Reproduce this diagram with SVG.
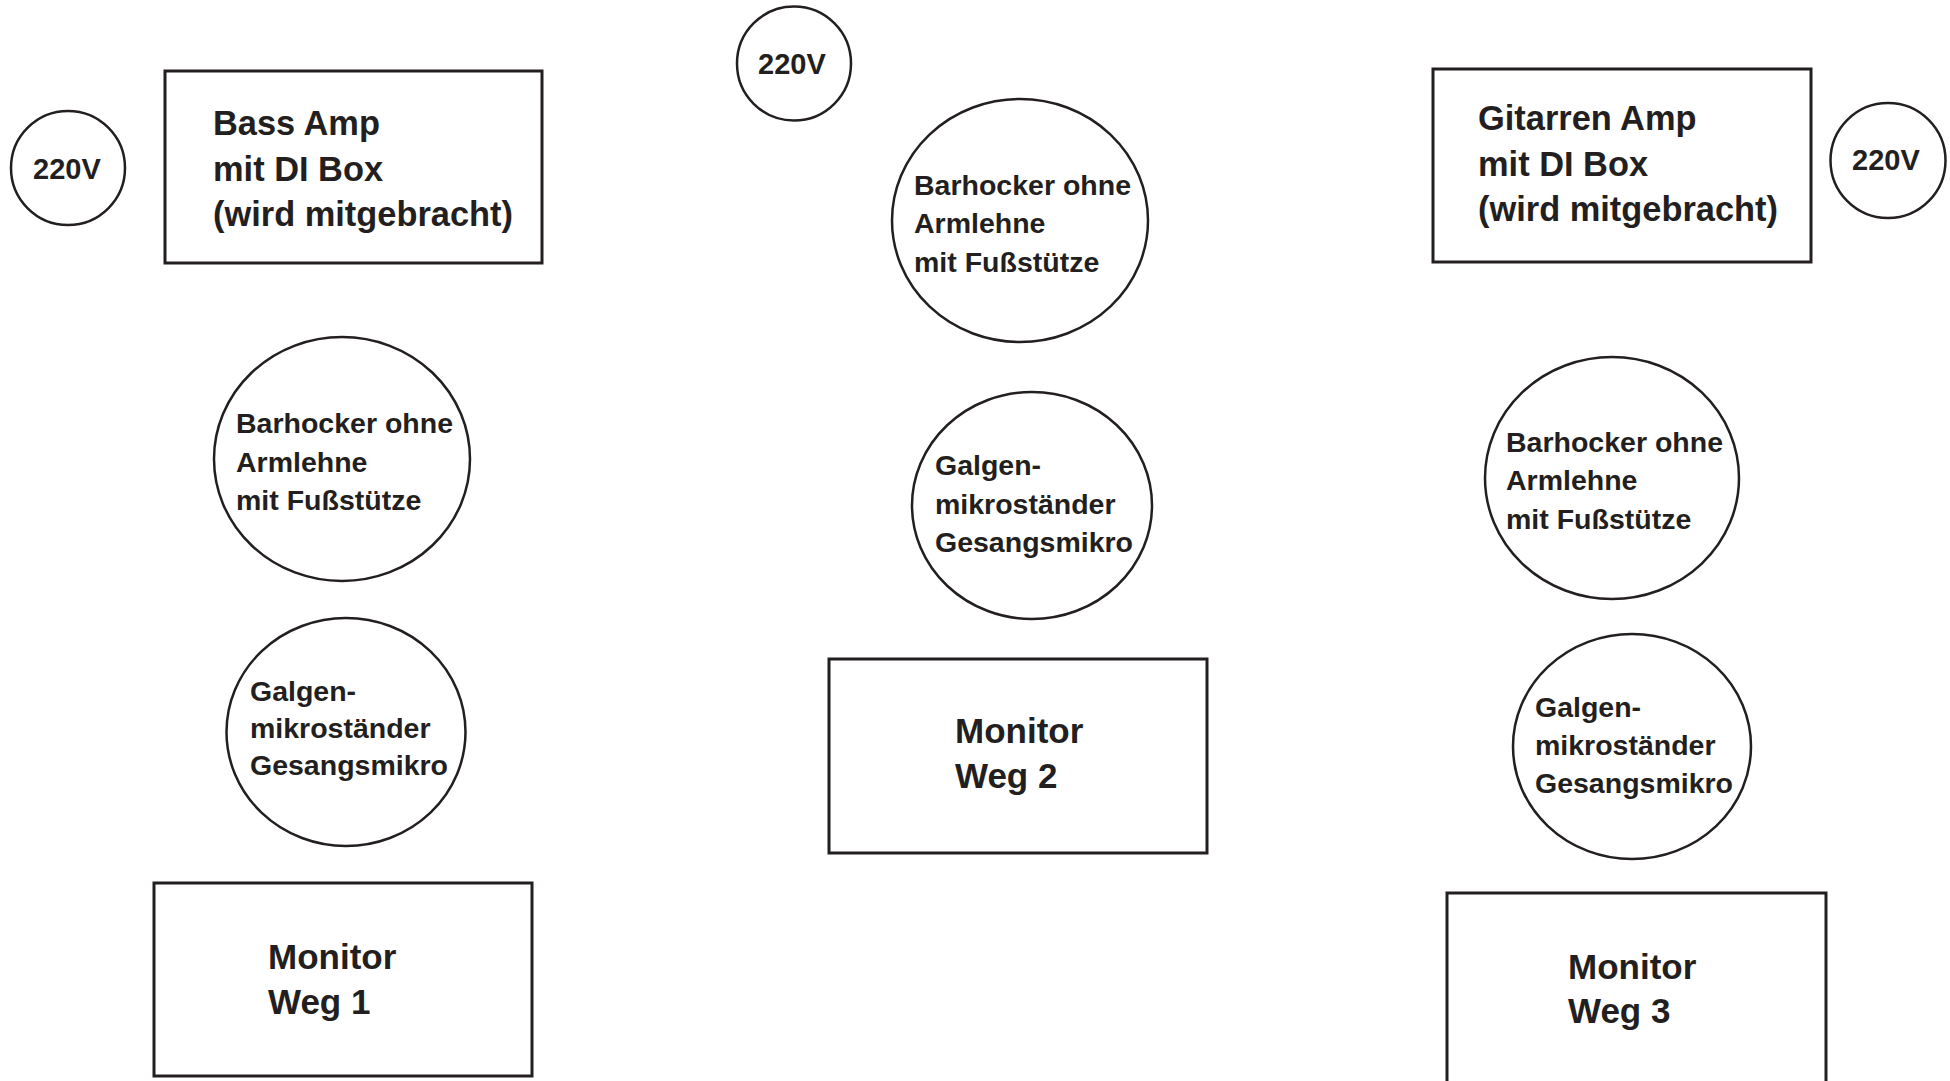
<svg xmlns="http://www.w3.org/2000/svg" width="1950" height="1081" viewBox="0 0 1950 1081">
<style>
.box{fill:#fff;stroke:#231f20;stroke-width:3}
.circ{fill:#fff;stroke:#231f20;stroke-width:2.5}
text{font-family:"Liberation Sans",Arial,sans-serif;font-weight:bold;fill:#231f20}
.amp{font-size:34.4px}
.mon{font-size:35px}
.small{font-size:28.5px}
.volt{font-size:29px}
</style>
<rect width="1950" height="1081" fill="#fff"/>
<g id="connectors"></g>

<g id="power-left">
<circle class="circ" cx="68" cy="168" r="57"/>
<text class="volt" x="33" y="179">220V</text>
</g>
<g id="bass-amp">
<rect class="box" x="165" y="71" width="377" height="192"/>
<text class="amp"><tspan x="213" y="135">Bass Amp</tspan><tspan x="213" y="181">mit DI Box</tspan><tspan x="213" y="226">(wird mitgebracht)</tspan></text>
</g>
<g id="stool-left">
<ellipse class="circ" cx="342" cy="459" rx="128" ry="122"/>
<text class="small"><tspan x="236" y="433">Barhocker ohne</tspan><tspan x="236" y="472">Armlehne</tspan><tspan x="236" y="510">mit Fußstütze</tspan></text>
</g>
<g id="mic-left">
<ellipse class="circ" cx="346" cy="732" rx="119.5" ry="114"/>
<text class="small"><tspan x="250" y="701">Galgen-</tspan><tspan x="250" y="738">mikroständer</tspan><tspan x="250" y="775">Gesangsmikro</tspan></text>
</g>
<g id="monitor-1">
<rect class="box" x="154" y="883" width="378" height="193"/>
<text class="mon"><tspan x="268" y="969">Monitor</tspan><tspan x="268" y="1014">Weg 1</tspan></text>
</g>

<g id="power-middle">
<circle class="circ" cx="794" cy="63.5" r="57"/>
<text class="volt" x="758" y="74">220V</text>
</g>
<g id="stool-middle">
<ellipse class="circ" cx="1020" cy="220.5" rx="128" ry="121.5"/>
<text class="small"><tspan x="914" y="195">Barhocker ohne</tspan><tspan x="914" y="233">Armlehne</tspan><tspan x="914" y="272">mit Fußstütze</tspan></text>
</g>
<g id="mic-middle">
<ellipse class="circ" cx="1032" cy="505.5" rx="120" ry="113.5"/>
<text class="small"><tspan x="935" y="475">Galgen-</tspan><tspan x="935" y="514">mikroständer</tspan><tspan x="935" y="552">Gesangsmikro</tspan></text>
</g>
<g id="monitor-2">
<rect class="box" x="829" y="659" width="378" height="194"/>
<text class="mon"><tspan x="955" y="743">Monitor</tspan><tspan x="955" y="788">Weg 2</tspan></text>
</g>

<g id="guitar-amp">
<rect class="box" x="1433" y="69" width="378" height="193"/>
<text class="amp"><tspan x="1478" y="130">Gitarren Amp</tspan><tspan x="1478" y="176">mit DI Box</tspan><tspan x="1478" y="221">(wird mitgebracht)</tspan></text>
</g>
<g id="power-right">
<circle class="circ" cx="1888" cy="160.5" r="57.5"/>
<text class="volt" x="1852" y="170">220V</text>
</g>
<g id="stool-right">
<ellipse class="circ" cx="1612" cy="478" rx="127" ry="121"/>
<text class="small"><tspan x="1506" y="452">Barhocker ohne</tspan><tspan x="1506" y="490">Armlehne</tspan><tspan x="1506" y="529">mit Fußstütze</tspan></text>
</g>
<g id="mic-right">
<ellipse class="circ" cx="1632" cy="746.5" rx="119" ry="112.5"/>
<text class="small"><tspan x="1535" y="717">Galgen-</tspan><tspan x="1535" y="755">mikroständer</tspan><tspan x="1535" y="793">Gesangsmikro</tspan></text>
</g>
<g id="monitor-3">
<rect class="box" x="1447" y="893" width="379" height="200"/>
<text class="mon"><tspan x="1568" y="979">Monitor</tspan><tspan x="1568" y="1023">Weg 3</tspan></text>
</g>
</svg>
